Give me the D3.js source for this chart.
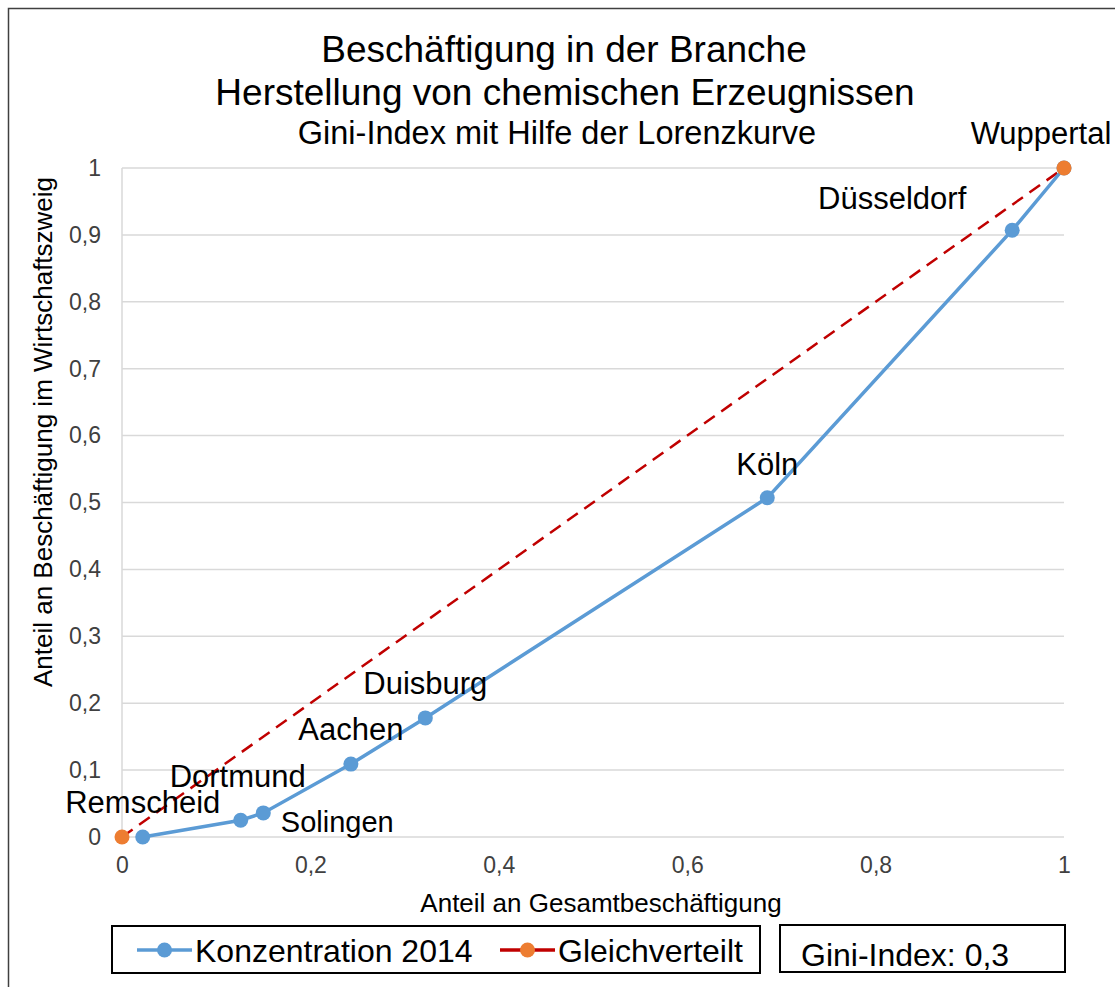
<!DOCTYPE html>
<html>
<head>
<meta charset="utf-8">
<script src="https://cdn.jsdelivr.net/npm/d3@7"></script>
<style>
  body { margin: 0; background: #fff; }
  text { font-family: "Liberation Sans", Arial, sans-serif; fill: #000; }
</style>
</head>
<body>
<div id="chart"></div>
<script>
// data
var cities = ["Remscheid", "Dortmund", "Solingen", "Aachen", "Duisburg", "Köln", "Düsseldorf", "Wuppertal"];
var shareTotal = [0.022, 0.126, 0.150, 0.243, 0.322, 0.685, 0.945, 1];
var shareBranch = [0, 0.025, 0.036, 0.109, 0.178, 0.507, 0.907, 1];
var equalX = [0, 1];
var equalY = [0, 1];
var ticks = [0, 0.1, 0.2, 0.3, 0.4, 0.5, 0.6, 0.7, 0.8, 0.9, 1];
var xTicks = [0, 0.2, 0.4, 0.6, 0.8, 1];

// label offsets relative to the points (dx, dy, font size)
var labelOffsets = {
  "Remscheid": [0, -24, 31], "Dortmund": [-3, -33, 31], "Solingen": [74, 19, 29],
  "Aachen": [0, -24, 31], "Duisburg": [0, -24, 31], "Köln": [0, -23, 31],
  "Düsseldorf": [-120, -21, 31], "Wuppertal": [-23, -24, 31]
};

var W = 1115, H = 987;
var margin = { top: 168, left: 122 };
var width = 942, height = 669;

var svg = d3.select("#chart").append("svg")
  .attr("width", W).attr("height", H);

// outer border
svg.append("rect").attr("x", 8.5).attr("y", 8.5).attr("width", W + 20).attr("height", H + 20)
  .attr("fill", "none").attr("stroke", "#404040").attr("stroke-width", 1.5);

// titles
svg.append("text").attr("x", 564).attr("y", 62).attr("text-anchor", "middle")
  .style("font-size", "37px").text("Beschäftigung in der Branche");
svg.append("text").attr("x", 565).attr("y", 105).attr("text-anchor", "middle")
  .style("font-size", "37px").text("Herstellung von chemischen Erzeugnissen");
svg.append("text").attr("x", 557).attr("y", 144).attr("text-anchor", "middle")
  .style("font-size", "32.5px").text("Gini-Index mit Hilfe der Lorenzkurve");

var g = svg.append("g").attr("transform", "translate(" + margin.left + "," + margin.top + ")");

var x = d3.scaleLinear().domain([0, 1]).range([0, width]);
var y = d3.scaleLinear().domain([0, 1]).range([height, 0]);

// horizontal gridlines
g.selectAll(".grid").data(ticks).enter().append("line")
  .attr("x1", 0).attr("x2", width)
  .attr("y1", function (d) { return y(d); }).attr("y2", function (d) { return y(d); })
  .attr("stroke", "#d9d9d9").attr("stroke-width", 1.5);
g.append("line").attr("x1", 0).attr("x2", 0).attr("y1", 0).attr("y2", height)
  .attr("stroke", "#d9d9d9").attr("stroke-width", 1.5);

var fmt = function (d) { return String(d).replace(".", ","); };

var yAxis = g.append("g").call(d3.axisLeft(y).tickValues(ticks).tickFormat(fmt).tickSize(0).tickPadding(21));
var xAxis = g.append("g").attr("transform", "translate(0," + height + ")")
  .call(d3.axisBottom(x).tickValues(xTicks).tickFormat(fmt).tickSize(0).tickPadding(20));
[yAxis, xAxis].forEach(function (a) {
  a.select(".domain").remove();
  a.selectAll("text").style("font-size", "23px").style("fill", "#404040")
    .style("font-family", "'Liberation Sans', Arial, sans-serif");
});

// axis titles
svg.append("text").attr("x", 601).attr("y", 912).attr("text-anchor", "middle")
  .style("font-size", "26px").text("Anteil an Gesamtbeschäftigung");
svg.append("text").attr("transform", "translate(52,432) rotate(-90)").attr("text-anchor", "middle")
  .style("font-size", "26px").text("Anteil an Beschäftigung im Wirtschaftszweig");

// equal distribution line
var eq = equalX.map(function (d, i) { return [d, equalY[i]]; });
var line = d3.line().x(function (d) { return x(d[0]); }).y(function (d) { return y(d[1]); });
g.append("path").datum(eq).attr("d", line).attr("fill", "none")
  .attr("stroke", "#c00000").attr("stroke-width", 2.5).attr("stroke-dasharray", "13,8");

// lorenz curve
var lor = shareTotal.map(function (d, i) { return [d, shareBranch[i]]; });
g.append("path").datum(lor).attr("d", line).attr("fill", "none")
  .attr("stroke", "#5b9bd5").attr("stroke-width", 3.5);
g.selectAll(".pt").data(lor).enter().append("circle")
  .attr("cx", function (d) { return x(d[0]); }).attr("cy", function (d) { return y(d[1]); })
  .attr("r", 7.5).attr("fill", "#5b9bd5");
g.selectAll(".eq").data(eq).enter().append("circle")
  .attr("cx", function (d) { return x(d[0]); }).attr("cy", function (d) { return y(d[1]); })
  .attr("r", 7.5).attr("fill", "#ed7d31");

// city labels
g.selectAll(".lbl").data(lor).enter().append("text")
  .attr("x", function (d, i) { return x(d[0]) + labelOffsets[cities[i]][0]; })
  .attr("y", function (d, i) { return y(d[1]) + labelOffsets[cities[i]][1]; })
  .attr("text-anchor", "middle")
  .style("font-size", function (d, i) { return labelOffsets[cities[i]][2] + "px"; })
  .text(function (d, i) { return cities[i]; });

// legend
svg.append("rect").attr("x", 112).attr("y", 926).attr("width", 648).attr("height", 47)
  .attr("fill", "#fff").attr("stroke", "#000").attr("stroke-width", 2);
var leg = [
  { name: "Konzentration 2014", line: "#5b9bd5", dot: "#5b9bd5", x: 137 },
  { name: "Gleichverteilt", line: "#c00000", dot: "#ed7d31", x: 500 }
];
leg.forEach(function (l) {
  svg.append("line").attr("x1", l.x).attr("x2", l.x + 55).attr("y1", 950).attr("y2", 950)
    .attr("stroke", l.line).attr("stroke-width", 3.5);
  svg.append("circle").attr("cx", l.x + 27.5).attr("cy", 950).attr("r", 7.5).attr("fill", l.dot);
  svg.append("text").attr("x", l.x + 58).attr("y", 962).style("font-size", "32px").text(l.name);
});

svg.append("rect").attr("x", 780).attr("y", 925).attr("width", 285).attr("height", 47)
  .attr("fill", "#fff").attr("stroke", "#000").attr("stroke-width", 2);
svg.append("text").attr("x", 801).attr("y", 966).style("font-size", "32px").text("Gini-Index: 0,3");
</script>
</body>
</html>
